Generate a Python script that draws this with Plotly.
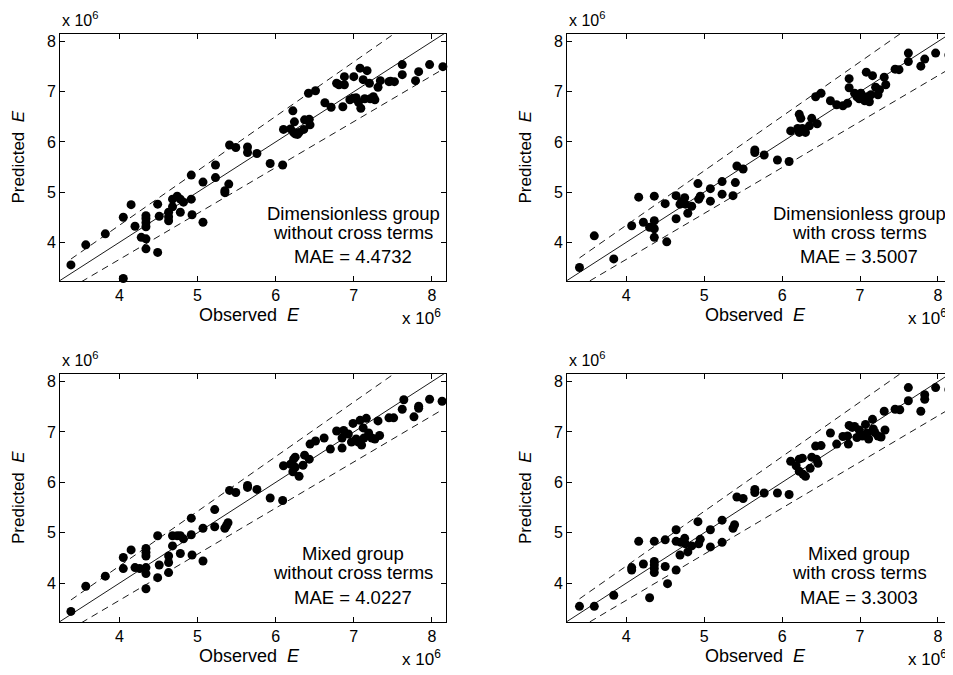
import plotly.graph_objects as go

# ---------------- data (units of 10^6) ----------------
obs1 = [3.38, 3.57, 3.82, 4.05, 4.05, 4.15, 4.20, 4.28, 4.34, 4.34, 4.34, 4.34, 4.34, 4.34,
        4.49, 4.49, 4.51, 4.63, 4.63, 4.63, 4.68, 4.68, 4.74, 4.78, 4.78, 4.82, 4.92, 4.92,
        4.93, 5.07, 5.07, 5.23, 5.23, 5.35, 5.35, 5.40, 5.41, 5.49, 5.64, 5.64, 5.76, 5.93,
        6.09, 6.10, 6.19, 6.22, 6.23, 6.24, 6.25, 6.28, 6.30, 6.36, 6.37, 6.44, 6.43, 6.42,
        6.51, 6.63, 6.71, 6.78, 6.81, 6.86, 6.88, 6.88, 6.95, 6.99, 7.00, 7.03, 7.06, 7.08,
        7.09, 7.12, 7.14, 7.17, 7.20, 7.21, 7.25, 7.27, 7.31, 7.34, 7.45, 7.47, 7.52, 7.62,
        7.62, 7.79, 7.83, 7.97, 8.14]
pred1 = [3.55, 3.95, 4.17, 4.50, 3.28, 4.75, 4.32, 4.10, 4.07, 4.53, 4.47, 4.39, 4.31, 3.87,
         4.76, 3.80, 4.52, 4.60, 4.51, 4.43, 4.71, 4.86, 4.92, 4.86, 4.60, 4.80, 4.86, 5.34,
         4.55, 5.20, 4.40, 5.54, 5.29, 5.03, 4.99, 5.16, 5.94, 5.89, 5.90, 5.79, 5.77, 5.57,
         5.54, 6.25, 6.26, 6.62, 6.19, 6.40, 6.16, 6.15, 6.19, 6.25, 6.44, 6.34, 6.45, 6.97,
         7.02, 6.78, 6.69, 7.17, 7.14, 6.70, 7.30, 7.14, 6.84, 6.87, 7.30, 6.88, 6.79, 7.47,
         6.67, 7.24, 6.86, 7.42, 7.17, 6.86, 6.90, 6.84, 7.09, 7.22, 7.20, 7.21, 7.20, 7.34,
         7.54, 7.22, 7.40, 7.54, 7.50]

obs2 = [3.40, 3.59, 3.84, 4.07, 4.16, 4.22, 4.30, 4.36, 4.36, 4.36, 4.36, 4.50, 4.52, 4.64,
        4.64, 4.69, 4.71, 4.75, 4.76, 4.79, 4.84, 4.92, 4.93, 4.95, 5.08, 5.08, 5.23, 5.23,
        5.37, 5.40, 5.42, 5.50, 5.65, 5.65, 5.77, 5.94, 6.09, 6.11, 6.20, 6.22, 6.24, 6.22,
        6.26, 6.30, 6.35, 6.38, 6.43, 6.45, 6.50, 6.62, 6.70, 6.78, 6.84, 6.86, 6.86, 6.93,
        6.96, 6.99, 7.01, 7.06, 7.08, 7.09, 7.12, 7.14, 7.16, 7.20, 7.23, 7.25, 7.31, 7.33,
        7.45, 7.50, 7.62, 7.62, 7.78, 7.83, 7.97, 8.14]
pred2 = [3.50, 4.13, 3.67, 4.33, 4.90, 4.40, 4.30, 4.92, 4.43, 4.27, 4.10, 4.77, 4.01, 4.93,
         4.47, 4.76, 4.81, 4.89, 4.76, 4.58, 4.72, 5.17, 4.86, 4.92, 5.07, 4.82, 5.21, 4.96,
         4.93, 5.19, 5.52, 5.46, 5.84, 5.79, 5.74, 5.64, 5.61, 6.22, 6.27, 6.55, 6.47, 6.19,
         6.27, 6.19, 6.32, 6.47, 6.90, 6.36, 6.97, 6.82, 6.74, 6.72, 6.77, 7.26, 7.08, 6.97,
         6.90, 6.86, 6.97, 6.82, 7.39, 6.90, 6.80, 6.94, 7.32, 7.09, 6.94, 7.04, 7.29, 7.14,
         7.45, 7.44, 7.77, 7.60, 7.51, 7.65, 7.77, 7.73]

obs3 = [3.38, 3.57, 3.82, 4.05, 4.05, 4.15, 4.20, 4.26, 4.34, 4.34, 4.34, 4.34, 4.34, 4.34,
        4.49, 4.49, 4.51, 4.63, 4.63, 4.63, 4.68, 4.68, 4.74, 4.78, 4.78, 4.82, 4.92, 4.92,
        4.93, 5.07, 5.07, 5.22, 5.22, 5.35, 5.37, 5.39, 5.41, 5.49, 5.64, 5.64, 5.76, 5.93,
        6.09, 6.10, 6.19, 6.23, 6.25, 6.22, 6.25, 6.30, 6.35, 6.37, 6.43, 6.44, 6.51, 6.62,
        6.70, 6.78, 6.85, 6.85, 6.87, 6.93, 6.99, 6.97, 7.03, 7.06, 7.08, 7.10, 7.12, 7.13,
        7.16, 7.19, 7.23, 7.27, 7.31, 7.33, 7.45, 7.51, 7.62, 7.64, 7.77, 7.83, 7.83, 7.97,
        8.13]
pred3 = [3.44, 3.94, 4.14, 4.51, 4.29, 4.66, 4.31, 4.29, 4.69, 4.61, 4.54, 4.31, 4.19, 3.89,
         4.94, 4.11, 4.36, 4.54, 4.41, 4.21, 4.94, 4.74, 4.94, 4.94, 4.59, 4.88, 4.96, 5.29,
         4.56, 5.09, 4.44, 5.46, 5.12, 5.09, 5.14, 5.20, 5.84, 5.80, 5.94, 5.90, 5.86, 5.69,
         5.64, 6.33, 6.36, 6.46, 6.50, 6.21, 6.30, 6.12, 6.34, 6.54, 6.46, 6.76, 6.82, 6.88,
         6.66, 7.02, 6.88, 6.68, 7.03, 6.96, 7.17, 6.80, 6.86, 6.80, 7.23, 6.74, 7.08, 6.88,
         7.27, 6.98, 6.88, 6.86, 7.22, 6.93, 7.28, 7.28, 7.45, 7.64, 7.30, 7.51, 7.47, 7.65,
         7.61]

obs4 = [3.40, 3.59, 3.84, 4.07, 4.07, 4.16, 4.22, 4.30, 4.36, 4.36, 4.36, 4.36, 4.36, 4.50,
        4.50, 4.53, 4.64, 4.64, 4.64, 4.69, 4.70, 4.75, 4.76, 4.79, 4.84, 4.92, 4.93, 4.95,
        5.08, 5.08, 5.23, 5.23, 5.37, 5.39, 5.42, 5.50, 5.65, 5.65, 5.77, 5.94, 6.09, 6.11,
        6.18, 6.22, 6.26, 6.22, 6.27, 6.30, 6.36, 6.38, 6.44, 6.46, 6.43, 6.50, 6.62, 6.70,
        6.78, 6.84, 6.85, 6.86, 6.90, 6.93, 6.96, 6.99, 7.03, 7.07, 7.09, 7.11, 7.16, 7.17,
        7.19, 7.23, 7.27, 7.32, 7.31, 7.45, 7.51, 7.62, 7.62, 7.78, 7.83, 7.83, 7.97, 8.14]
pred4 = [3.54, 3.54, 3.76, 4.31, 4.26, 4.83, 4.38, 3.71, 4.83, 4.43, 4.36, 4.29, 4.21, 4.86,
         4.33, 3.99, 5.06, 4.83, 4.26, 4.56, 4.81, 4.89, 4.78, 4.62, 4.74, 5.22, 4.78, 4.87,
         5.06, 4.72, 5.25, 4.81, 5.09, 5.16, 5.71, 5.68, 5.86, 5.80, 5.79, 5.79, 5.76, 6.42,
         6.33, 6.46, 6.48, 6.22, 6.16, 6.12, 6.28, 6.50, 6.46, 6.38, 6.72, 6.73, 6.98, 6.76,
         6.91, 6.92, 6.76, 7.13, 7.09, 7.11, 6.89, 7.04, 6.92, 7.15, 6.98, 6.86, 7.25, 7.06,
         6.99, 6.92, 6.90, 7.04, 7.41, 7.45, 7.44, 7.88, 7.62, 7.41, 7.74, 7.65, 7.88, 7.84]

panel_obs = [obs1, obs2, obs3, obs4]
panel_pred = [pred1, pred2, pred3, pred4]
panel_labels = [
    ["Dimensionless group", "without cross terms", "MAE = 4.4732"],
    ["Dimensionless group", "with cross terms", "MAE = 3.5007"],
    ["Mixed group", "without cross terms", "MAE = 4.0227"],
    ["Mixed group", "with cross terms", "MAE = 3.3003"],
]
tick_vals = [4, 5, 6, 7, 8]
tick_text = ["4", "5", "6", "7", "8"]
upper_factor = 1.085
lower_factor = 0.915

# ---------------- layout geometry ----------------
OFF = 8                      # page body margin around the plot div
W, H = 945, 667
X_RANGE = [3.24, 8.18]
Y_RANGE = [3.23, 8.15]
# pixel boxes (page pixels) of the four plot areas: (left, right, top, bottom)
boxes = [(60, 446, 34, 281), (567, 952, 34, 281),
         (60, 446, 374, 622), (567, 952, 374, 622)]

def px(x):
    return (x - OFF) / W

def py(y):
    return 1 - (y - OFF) / H

FONT = "Liberation Sans, Arial, sans-serif"
fig = go.Figure()
annotations = []

for i in range(4):
    n = i + 1
    xa = "x" if n == 1 else f"x{n}"
    ya = "y" if n == 1 else f"y{n}"
    obs = panel_obs[i]
    pred = panel_pred[i]
    lo, hi = min(obs), max(obs)
    # y = x reference line over the full axis
    fig.add_trace(go.Scatter(x=[X_RANGE[0] - 0.5, X_RANGE[1] + 0.5],
                             y=[X_RANGE[0] - 0.5, X_RANGE[1] + 0.5],
                             mode="lines", line=dict(color="black", width=0.9),
                             xaxis=xa, yaxis=ya, hoverinfo="skip", showlegend=False))
    # dashed bounds over the observed range
    fig.add_trace(go.Scatter(x=[lo, hi], y=[lo * upper_factor, hi * upper_factor],
                             mode="lines", line=dict(color="black", width=0.9, dash="7px,5px"),
                             xaxis=xa, yaxis=ya, hoverinfo="skip", showlegend=False))
    fig.add_trace(go.Scatter(x=[lo, hi], y=[lo * lower_factor, hi * lower_factor],
                             mode="lines", line=dict(color="black", width=0.9, dash="7px,5px"),
                             xaxis=xa, yaxis=ya, hoverinfo="skip", showlegend=False))
    fig.add_trace(go.Scatter(x=obs, y=pred, mode="markers",
                             marker=dict(color="black", size=9, line=dict(width=0)),
                             cliponaxis=False,
                             xaxis=xa, yaxis=ya, showlegend=False))

    L, R, T, B = boxes[i]
    axis_common = dict(showline=True, linecolor="black", linewidth=1, mirror="allticks",
                       ticks="inside", ticklen=5, tickcolor="black", tickwidth=1,
                       showgrid=False, zeroline=False, tickvals=tick_vals, ticktext=tick_text,
                       tickfont=dict(family=FONT, size=16, color="black"))
    xkey = "xaxis" if n == 1 else f"xaxis{n}"
    ykey = "yaxis" if n == 1 else f"yaxis{n}"
    fig.update_layout(**{
        xkey: dict(axis_common, domain=[px(L), min(px(R), 1)], range=X_RANGE, anchor=ya),
        ykey: dict(axis_common, domain=[py(B), py(T)], range=Y_RANGE, anchor=xa),
    })

    cx = (L + R) / 2
    # text block in lower right
    tcx = R - 93
    for text, yy in zip(panel_labels[i], [T + 179, T + 198, T + 223]):
        annotations.append(dict(text=text, x=px(tcx), y=py(yy), xref="paper", yref="paper",
                                xanchor="center", yanchor="middle", showarrow=False,
                                font=dict(family=FONT, size=18.5, color="black")))
    # axis titles
    annotations.append(dict(text="Observed  <i>E</i>", x=px(cx - 4), y=py(B + 34), xref="paper",
                            yref="paper", xanchor="center", yanchor="middle", showarrow=False,
                            font=dict(family=FONT, size=18, color="black")))
    annotations.append(dict(text="Predicted  <i>E</i>", x=px(L - 42), y=py((T + B) / 2),
                            xref="paper", yref="paper", xanchor="center", yanchor="middle",
                            textangle=-90, showarrow=False,
                            font=dict(family=FONT, size=17, color="black")))
    # exponent labels
    annotations.append(dict(text="x 10<sup>6</sup>", x=px(L), y=py(T - 3), xref="paper",
                            yref="paper", xanchor="left", yanchor="bottom", showarrow=False,
                            font=dict(family=FONT, size=16, color="black")))
    annotations.append(dict(text="x 10<sup>6</sup>", x=px(R - 46), y=py(B + 49), xref="paper",
                            yref="paper", xanchor="left", yanchor="bottom", showarrow=False,
                            font=dict(family=FONT, size=17, color="black")))

fig.update_layout(width=W, height=H, margin=dict(l=0, r=0, t=0, b=0),
                  paper_bgcolor="white", plot_bgcolor="white",
                  annotations=annotations, showlegend=False)
fig.write_html("out.html")
